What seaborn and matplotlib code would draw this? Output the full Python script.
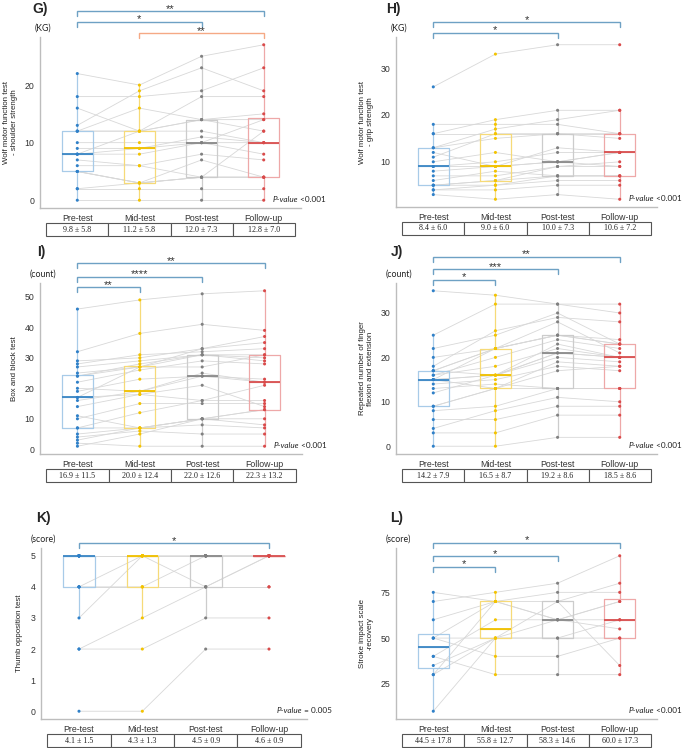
import pandas as pd
import seaborn as sns
import matplotlib.pyplot as plt
import matplotlib.transforms as mtransforms

# ---- data -------------------------------------------------------------
times = ["Pre-test", "Mid-test", "Post-test", "Follow-up"]

# G) Wolf motor function test - shoulder strength (KG), one entry per subject
g_pre = [0, 2, 2, 5, 5, 5, 6, 7, 8, 8, 8, 9, 10, 12, 12, 12, 13, 16, 18, 22]
g_mid = [0, 2, 3, 3, 3, 3, 6, 6, 8, 9, 12, 9, 10, 12, 16, 12, 19, 12, 18, 20]
g_post = [0, 2, 4, 4, 4, 7, 4, 8, 10, 10, 12, 11, 10, 14, 14, 14, 23, 18, 19, 25]
g_fu = [0, 2, 4, 12, 4, 4, 4, 7, 8, 10, 10, 10, 14, 14, 15, 12, 19, 18, 23, 27]
g_table = ["9.8 ± 5.8", "11.2 ± 5.8", "12.0 ± 7.3", "12.8 ± 7.0"]
g_pvalue = "<0.001"
g_sig = [(0, 3, "**"), (0, 2, "*"), (1, 3, "**")]

# H) Wolf motor function test - grip strength (KG)
h_pre = [3, 4, 4, 5, 5, 5, 6, 7, 8, 9, 9, 10, 11, 12, 13, 13, 16, 16, 18, 26]
h_mid = [2, 5, 4, 6, 5, 6, 8, 7, 9, 10, 9, 12, 16, 9, 15, 17, 16, 19, 18, 33]
h_post = [3, 6, 5, 7, 7, 9, 7, 9, 10, 12, 10, 10, 16, 13, 16, 19, 16, 21, 18, 35]
h_fu = [2, 6, 5, 7, 7, 9, 7, 10, 12, 12, 12, 9, 16, 12, 15, 21, 16, 21, 16, 35]
h_table = ["8.4 ± 6.0", "9.0 ± 6.0", "10.0 ± 7.3", "10.6 ± 7.2"]
h_pvalue = "<0.001"
h_sig = [(0, 3, "*"), (0, 2, "*")]

# I) Box and block test (count)
i_pre = [1, 2, 3, 4, 5, 7, 7, 10, 11, 14, 16, 17, 17, 19, 20, 22, 24, 24, 25, 27, 28, 29, 32, 46]
i_mid = [5, 1, 7, 6, 7, 12, 7, 15, 7, 18, 19, 18, 27, 23, 19, 26, 27, 28, 27, 29, 31, 30, 38, 49]
i_post = [10, 1, 8, 5, 10, 16, 10, 15, 10, 21, 24, 16, 31, 24, 25, 29, 27, 31, 33, 31, 32, 33, 41, 51]
i_fu = [13, 1, 7, 5, 8, 16, 10, 15, 13, 14, 22, 21, 29, 23, 22, 28, 31, 30, 37, 31, 33, 35, 39, 52]
i_table = ["16.9 ± 11.5", "20.0 ± 12.4", "22.0 ± 12.6", "22.3 ± 13.2"]
i_pvalue = "<0.001"
i_sig = [(0, 3, "**"), (0, 2, "****"), (0, 1, "**")]

# J) Repeated number of finger flexion and extension (count)
j_pre = [0, 3, 4, 6, 8, 9, 9, 12, 13, 14, 15, 15, 15, 15, 16, 16, 17, 17, 17, 18, 20, 22, 25, 35]
j_mid = [0, 3, 8, 6, 9, 13, 13, 16, 14, 15, 13, 22, 16, 16, 18, 20, 22, 16, 22, 26, 22, 25, 32, 34]
j_post = [2, 7, 11, 9, 13, 13, 17, 21, 13, 18, 19, 25, 20, 21, 22, 24, 25, 23, 25, 29, 28, 30, 32, 32]
j_fu = [2, 7, 10, 9, 13, 13, 18, 20, 13, 17, 18, 23, 19, 20, 20, 22, 24, 20, 23, 28, 21, 23, 30, 32]
j_table = ["14.2 ± 7.9", "16.5 ± 8.7", "19.2 ± 8.6", "18.5 ± 8.6"]
j_pvalue = "<0.001"
j_sig = [(0, 3, "**"), (0, 2, "***"), (0, 1, "*")]

# K) Thumb opposition test (score)
k_pre = [0, 2, 2, 3, 4, 4, 4, 4, 5, 5, 5, 5, 5, 5, 5, 5, 5, 5, 5, 5]
k_mid = [0, 2, 3, 5, 5, 4, 4, 4, 5, 5, 5, 5, 5, 5, 5, 5, 5, 5, 5, 5]
k_post = [2, 3, 4, 4, 5, 4, 4, 5, 5, 5, 5, 5, 5, 5, 5, 5, 5, 5, 5, 5]
k_fu = [2, 3, 5, 5, 5, 4, 4, 5, 5, 5, 5, 5, 5, 5, 5, 5, 5, 5, 5, 5]
k_table = ["4.1 ± 1.5", "4.3 ± 1.3", "4.5 ± 0.9", "4.6 ± 0.9"]
k_pvalue = "= 0.005"
k_sig = [(0, 3, "*")]

# L) Stroke impact scale - recovery (score)
l_pre = [10, 30, 30, 35, 40, 40, 50, 50, 50, 60, 70, 75]
l_mid = [50, 70, 50, 50, 30, 60, 40, 70, 50, 70, 75, 70]
l_post = [60, 70, 70, 50, 30, 60, 40, 60, 50, 75, 80, 60]
l_fu = [60, 80, 35, 50, 30, 55, 50, 70, 60, 75, 95, 70]
l_table = ["44.5 ± 17.8", "55.8 ± 12.7", "58.3 ± 14.6", "60.0 ± 17.3"]
l_pvalue = "<0.001"
l_sig = [(0, 3, "*"), (0, 2, "*"), (0, 1, "*")]

# ---- styling ------------------------------------------------------------
point_colors = ["#2f80c8", "#f3c300", "#808080", "#d94a4a"]
box_colors = ["#a8cbe8", "#f6da78", "#cccccc", "#eea8a8"]
median_colors = ["#3a86c4", "#f0c000", "#8a8a8a", "#d85050"]
line_color = "#d8d8d8"
bracket_blue = "#6ea1c4"
bracket_orange = "#f5a985"

sns.set_style("white")
plt.rcParams["font.family"] = ["Liberation Sans", "DejaVu Sans"]

W, H = 685, 748


def rect(l, r, t, b):
    return [l / W, 1 - b / H, (r - l) / W, (b - t) / H]


panels = [
    dict(letter="G)", data=[g_pre, g_mid, g_post, g_fu], table=g_table, pval=g_pvalue, sig=g_sig,
         ylabel="Wolf motor function test\n- shoulder strength", unit="(KG)",
         yticks=[0, 10, 20], rect=rect(40, 301, 37, 208), levels=[1.152, 1.088, 1.023],
         colors=[bracket_blue, bracket_blue, bracket_orange], lpos=(40, 9)),
    dict(letter="H)", data=[h_pre, h_mid, h_post, h_fu], table=h_table, pval=h_pvalue, sig=h_sig,
         ylabel="Wolf motor function test\n- grip strength", unit="(KG)",
         yticks=[10, 20, 30], rect=rect(396, 657, 37, 207), levels=[1.088, 1.024],
         colors=[bracket_blue, bracket_blue], lpos=(393, 9)),
    dict(letter="I)", data=[i_pre, i_mid, i_post, i_fu], table=i_table, pval=i_pvalue, sig=i_sig,
         ylabel="Box and block test", unit="(count)",
         yticks=[0, 10, 20, 30, 40, 50], rect=rect(40, 302, 283, 454), levels=[1.115, 1.037, 0.975],
         colors=[bracket_blue] * 3, lpos=(41, 252)),
    dict(letter="J)", data=[j_pre, j_mid, j_post, j_fu], table=j_table, pval=j_pvalue, sig=j_sig,
         ylabel="Repeated number of finger\nflexion and extension", unit="(count)",
         yticks=[0, 10, 20, 30], rect=rect(396, 657, 283, 454), levels=[1.154, 1.082, 1.018],
         colors=[bracket_blue] * 3, lpos=(397, 252)),
    dict(letter="K)", data=[k_pre, k_mid, k_post, k_fu], table=k_table, pval=k_pvalue, sig=k_sig,
         ylabel="Thumb opposition test", unit="(score)",
         yticks=[0, 1, 2, 3, 4, 5], rect=rect(41, 307, 548, 719), levels=[1.029],
         colors=[bracket_blue], lpos=(43, 518)),
    dict(letter="L)", data=[l_pre, l_mid, l_post, l_fu], table=l_table, pval=l_pvalue, sig=l_sig,
         ylabel="Stroke impact scale\n-recovery", unit="(score)",
         yticks=[25, 50, 75], rect=rect(396, 657, 548, 719), levels=[1.031, 0.953, 0.891],
         colors=[bracket_blue] * 3, lpos=(397, 518)),
]


def long_form(series):
    rows = []
    for t, vals in zip(times, series):
        for s, v in enumerate(vals):
            rows.append({"subject": s, "time": t, "value": v})
    return pd.DataFrame(rows)


fig = plt.figure(figsize=(W / 100, H / 100), dpi=100)

for p in panels:
    ax = fig.add_axes(p["rect"])
    df = long_form(p["data"])

    # paired subject lines
    sns.lineplot(data=df, x="time", y="value", units="subject", estimator=None, sort=False,
                 color=line_color, lw=0.6, ax=ax, zorder=1)
    # light boxes + whiskers
    sns.boxplot(data=df, x="time", y="value", hue="time", palette=box_colors, fill=False,
                width=0.5, showcaps=False, showfliers=False, linewidth=0.9, legend=False,
                ax=ax, zorder=2)
    # darker median bars
    sns.boxplot(data=df, x="time", y="value", hue="time", palette=median_colors, fill=False,
                width=0.5, showbox=False, showcaps=False, showfliers=False,
                whiskerprops={"linewidth": 0}, medianprops={"linewidth": 1.3},
                legend=False, ax=ax, zorder=2.5)
    # points
    sns.stripplot(data=df, x="time", y="value", hue="time", palette=point_colors, jitter=False,
                  size=2.2, linewidth=0, legend=False, ax=ax, zorder=3)

    vmin, vmax = df["value"].min(), df["value"].max()
    pad = (vmax - vmin) * 0.05
    ax.set_ylim(vmin - pad, vmax + pad)
    ax.set_xlim(-0.6, 3.6)
    ax.set_yticks(p["yticks"])
    ax.set_xticks(range(4))
    ax.set_xticklabels(times)
    ax.set_xlabel("")
    ax.set_ylabel(p["ylabel"], fontsize=5.7, color="#222222", labelpad=5, linespacing=1.1)
    ax.tick_params(axis="both", labelsize=6.3, colors="#333333", length=2, width=0.6, pad=2)
    ax.tick_params(axis="both", color="#999999")
    sns.despine(ax=ax)
    for side in ["left", "bottom"]:
        ax.spines[side].set_color("#bdbdbd")
        ax.spines[side].set_linewidth(1.0)

    # significance brackets
    tr = mtransforms.blended_transform_factory(ax.transData, ax.transAxes)
    for (i, j, stars), level, col in zip(p["sig"], p["levels"], p["colors"]):
        ax.plot([i, i, j, j], [level - 0.03, level, level, level - 0.03], color=col, lw=1.0,
                transform=tr, clip_on=False, solid_joinstyle="miter")
        ax.text((i + j) / 2, level + 0.014, stars, ha="center", va="center", fontsize=8,
                color="#333333", transform=tr)

    # unit label and panel letter
    ax.text(0.01, 1.05, p["unit"], transform=ax.transAxes, ha="center", va="center",
            fontsize=6.3, family="Lato", color="#222222")
    fig.text(p["lpos"][0] / W, 1 - p["lpos"][1] / H, p["letter"], ha="center", va="center",
             fontsize=10, fontweight="bold")

    # p-value
    t2 = ax.text(1.095, 0.05, " " + p["pval"], transform=ax.transAxes, ha="right", va="center",
                 fontsize=5.9, family="Lato", color="#222222")
    ax.annotate("P-value", xy=(0, 0.5), xycoords=t2, ha="right", va="center", fontsize=5.9,
                style="italic", family="Lato", color="#222222")

    # mean ± SD table under the axis
    tbl = ax.table(cellText=[p["table"]], cellLoc="center",
                   bbox=[0.1 / 4.2, -0.164, 4 / 4.2, 0.076])
    tbl.auto_set_font_size(False)
    tbl.set_fontsize(5.8)
    for cell in tbl.get_celld().values():
        cell.set_edgecolor("#555555")
        cell.set_linewidth(0.8)
        cell.get_text().set_family("Liberation Serif")
        cell.get_text().set_color("#222222")

fig.savefig("out.png", dpi=100)
